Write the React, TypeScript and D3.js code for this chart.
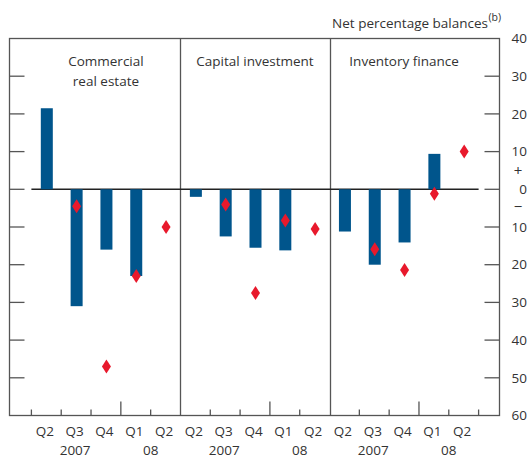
import * as d3 from 'd3';
import React, { useEffect, useRef } from 'react';

// Panels and quarters
const panelTitles = [['Commercial', 'real estate'], ['Capital investment'], ['Inventory finance']];
const quarters = ['Q2', 'Q3', 'Q4', 'Q1', 'Q2'];
const years = ['2007', '08'];

// Bars: Q2 2007 .. Q1 2008, diamonds: Q3 2007 .. Q2 2008
const creBars = [21.5, -31, -16, -23, null];
const creDiamonds = [null, -4.5, -47, -23, -10];
const capBars = [-2, -12.5, -15.5, -16.2, null];
const capDiamonds = [null, -4, -27.5, -8.3, -10.5];
const invBars = [-11.2, -20, -14.1, 9.4, null];
const invDiamonds = [null, -15.9, -21.4, -1.2, 10];

const yTicks = [40, 30, 20, 10, 0, -10, -20, -30, -40, -50, -60];

const App = () => {
    const svgRef = useRef(null);

    useEffect(() => {
        const width = 528;
        const height = 459;
        const left = 9.5, right = 499.5, top = 38.5, bottom = 415.5;
        const font = '"Open Sans", "Noto Sans", sans-serif';
        const fs = '13.5px';
        const textColor = '#333';
        const axisColor = '#555';

        const panels = [
            { bars: creBars, diamonds: creDiamonds },
            { bars: capBars, diamonds: capDiamonds },
            { bars: invBars, diamonds: invDiamonds },
        ];

        const slots = [];
        panels.forEach((p, pi) => quarters.forEach((q, qi) => slots.push(`${pi}-${qi}`)));

        const xScale = d3.scaleBand().domain(slots).range([31.4, 478.6]);
        const yScale = d3.scaleLinear().domain([-60, 40]).range([bottom, top]);
        const bw = xScale.bandwidth();

        const svg = d3.select(svgRef.current);
        svg.selectAll('*').remove();
        svg.attr('width', width).attr('height', height);

        // Frame
        svg.append('rect')
            .attr('x', left).attr('y', top)
            .attr('width', right - left).attr('height', bottom - top)
            .attr('fill', 'none').attr('stroke', axisColor).attr('stroke-width', 1.3);

        // Panel dividers
        [1, 2].forEach(pi => {
            const x = Math.round(xScale(`${pi}-0`)) + 0.5;
            svg.append('line')
                .attr('x1', x).attr('x2', x).attr('y1', top).attr('y2', bottom)
                .attr('stroke', axisColor).attr('stroke-width', 1.3);
        });

        // Y ticks inside frame, both sides
        yTicks.filter(t => t > -60 && t < 40).forEach(t => {
            const y = yScale(t);
            svg.append('line').attr('x1', left).attr('x2', left + 15).attr('y1', y).attr('y2', y)
                .attr('stroke', axisColor).attr('stroke-width', 1.3);
            svg.append('line').attr('x1', right - 15).attr('x2', right).attr('y1', y).attr('y2', y)
                .attr('stroke', axisColor).attr('stroke-width', 1.3);
        });

        // Right tick labels
        svg.append('g').selectAll('text')
            .data(yTicks)
            .enter()
            .append('text')
            .attr('x', 527)
            .attr('y', d => yScale(d))
            .attr('dy', '0.35em')
            .attr('text-anchor', 'end')
            .style('font-family', font)
            .style('font-size', fs)
            .attr('fill', textColor)
            .text(d => Math.abs(d));

        svg.append('text').attr('x', 518).attr('y', yScale(5)).attr('dy', '0.35em')
            .attr('text-anchor', 'middle').style('font-family', font).style('font-size', '15px')
            .attr('fill', textColor).text('+');
        svg.append('text').attr('x', 518).attr('y', yScale(-4.5)).attr('dy', '0.35em')
            .attr('text-anchor', 'middle').style('font-family', font).style('font-size', '15px')
            .attr('fill', textColor).text('\u2212');

        // Unit label
        svg.append('text')
            .attr('x', 488).attr('y', 28)
            .attr('text-anchor', 'end')
            .style('font-family', font).style('font-size', fs)
            .attr('fill', textColor)
            .text('Net percentage balances');
        svg.append('text')
            .attr('x', 488.5).attr('y', 21)
            .style('font-family', font).style('font-size', '10.5px')
            .attr('fill', textColor)
            .text('(b)');

        // Bottom ticks (skip dividers)
        slots.forEach((s, i) => {
            const qi = i % 5;
            const x0 = xScale(s);
            const edges = [x0];
            if (i === slots.length - 1) edges.push(x0 + bw);
            edges.forEach((x, k) => {
                if (qi === 0 && i > 0 && k === 0) return;
                const tall = qi === 3 && k === 0;
                svg.append('line')
                    .attr('x1', x).attr('x2', x)
                    .attr('y1', bottom).attr('y2', bottom - (tall ? 14 : 6))
                    .attr('stroke', axisColor).attr('stroke-width', 1.3);
            });
        });

        // Zero line
        svg.append('line')
            .attr('x1', 31.4).attr('x2', 478.6)
            .attr('y1', yScale(0)).attr('y2', yScale(0))
            .attr('stroke', '#222').attr('stroke-width', 1.5);

        panels.forEach((p, pi) => {
            const barData = p.bars.map((v, qi) => ({ key: `${pi}-${qi}`, v })).filter(d => d.v !== null);
            const diaData = p.diamonds.map((v, qi) => ({ key: `${pi}-${qi}`, v })).filter(d => d.v !== null);

            svg.append('g').selectAll('rect')
                .data(barData)
                .enter()
                .append('rect')
                .attr('x', d => xScale(d.key) + bw / 2 - 6 + 0.5)
                .attr('width', 12)
                .attr('y', d => yScale(Math.max(0, d.v)))
                .attr('height', d => Math.abs(yScale(d.v) - yScale(0)))
                .attr('fill', '#00558c');

            svg.append('g').selectAll('path')
                .data(diaData)
                .enter()
                .append('path')
                .attr('transform', d => `translate(${xScale(d.key) + bw / 2 + 0.5},${yScale(d.v)})`)
                .attr('d', 'M0,-7L4.5,0L0,7L-4.5,0Z')
                .attr('fill', '#e8192c');

            // Panel title
            const cx = (xScale(`${pi}-0`) + xScale(`${pi}-4`) + bw) / 2;
            panelTitles[pi].forEach((line, li) => {
                svg.append('text')
                    .attr('x', cx).attr('y', 66 + li * 20)
                    .attr('text-anchor', 'middle')
                    .style('font-family', font).style('font-size', fs)
                    .attr('fill', textColor)
                    .text(line);
            });

            // Quarter labels
            quarters.forEach((q, qi) => {
                svg.append('text')
                    .attr('x', xScale(`${pi}-${qi}`) + bw / 2 - 1.5)
                    .attr('y', 436)
                    .attr('text-anchor', 'middle')
                    .style('font-family', font).style('font-size', fs)
                    .attr('fill', textColor)
                    .text(q);
            });

            // Year labels
            svg.append('text')
                .attr('x', xScale(`${pi}-1`) + bw / 2 - 1)
                .attr('y', 455)
                .attr('text-anchor', 'middle')
                .style('font-family', font).style('font-size', fs)
                .attr('fill', textColor)
                .text(years[0]);
            svg.append('text')
                .attr('x', xScale(`${pi}-4`))
                .attr('y', 455)
                .attr('text-anchor', 'middle')
                .style('font-family', font).style('font-size', fs)
                .attr('fill', textColor)
                .text(years[1]);
        });
    }, []);

    return <svg ref={svgRef} style={{ position: 'absolute', left: 0, top: 0 }}></svg>;
};

export default App;
